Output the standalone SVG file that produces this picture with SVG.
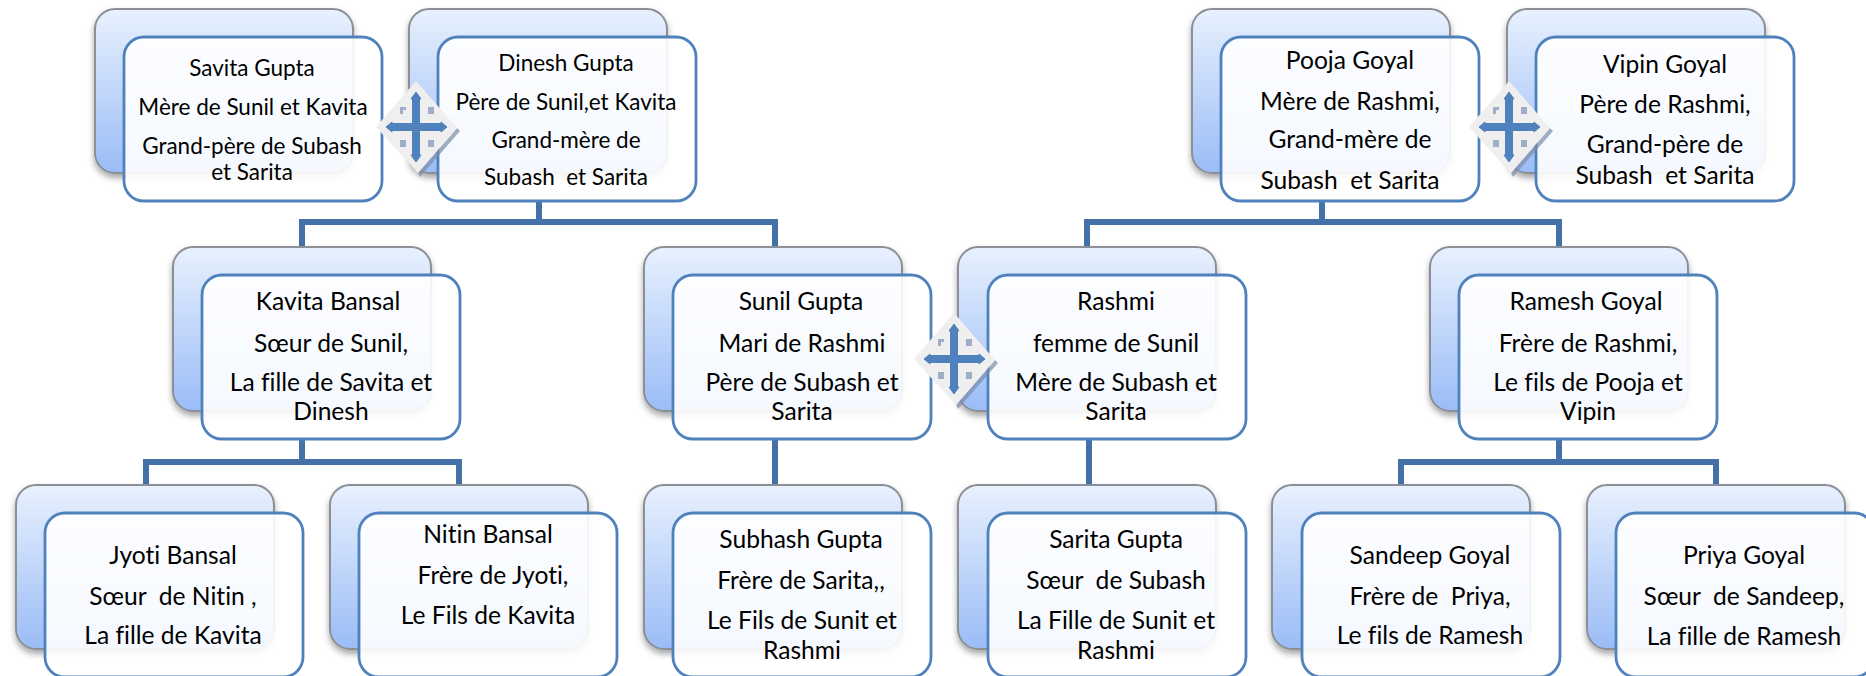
<svg xmlns="http://www.w3.org/2000/svg" width="1866" height="676" viewBox="0 0 1866 676">
<style>
text{font-family:"Lato","Open Sans","Liberation Sans",sans-serif;font-size:24.6px;fill:#000;text-anchor:middle;white-space:pre;font-variant-ligatures:none;transform:translateY(1.5px)}
.t text{font-size:22.5px}
.b{fill:url(#g);stroke:#8c8f96;stroke-width:2;filter:url(#s)}
.f{fill:#fff;fill-opacity:.9;stroke:#4f81bd;stroke-width:2.8}
.c{fill:none;stroke:#4472a8;stroke-width:6}
</style>
<defs>
<linearGradient id="g" x1="0" y1="0" x2="0" y2="1"><stop offset="0" stop-color="#e8f1fe"/><stop offset="1" stop-color="#9abcf6"/></linearGradient>
<filter id="s" x="-10%" y="-10%" width="120%" height="125%"><feDropShadow dx="0" dy="4" stdDeviation="3" flood-color="#000" flood-opacity=".35"/></filter>
<rect id="bb" class="b" width="258" height="164" rx="20"/>
<rect id="ff" class="f" width="258" height="164" rx="20"/>
<g id="d">
<path d="M41 1 L44 4 L4 50 L2 46 Z" fill="#7b8ba5" opacity=".7"/>
<path d="M0 -46 L41 1 L2 46 L-40 0 Z" fill="#efefef"/>
<path d="M0 -35 L5 -28 L3.500 -28 L3.500 -3.500 L25 -3.500 L25 -5 L31 0 L25 5 L25 3.500 L3.500 3.500 L3.500 28 L5 28 L0 35 L-5 28 L-3.500 28 L-3.500 3.500 L-24 3.500 L-24 5 L-30 0 L-24 -5 L-24 -3.500 L-3.500 -3.500 L-3.500 -28 L-5 -28 Z" fill="#4f81bd" stroke="#4f81bd" stroke-width="1"/>
<path d="M-16 -20 h6 v3 h-3 v4 h-3 z M12 -20 h6 v7 h-6 z M-16 13 h6 v7 h-6 z M12 13 h6 v7 h-6 z" fill="#9fadc8"/>
</g>
</defs>
<g id="connectors">
<path class="c" d="M302 247V222H775V247M539 201V222"/>
<path class="c" d="M1087 247V222H1559V247M1322 201V222"/>
<path class="c" d="M146 485V462H459V485M302 439V462"/>
<path class="c" d="M775 439V485"/>
<path class="c" d="M1089 439V485"/>
<path class="c" d="M1401 485V462H1716V485M1559 439V462"/>
</g>
<g id="savita" class="t"><use href="#bb" x="95" y="9"/><use href="#ff" x="124" y="37"/><text x="252" y="74">Savita Gupta</text><text x="253" y="113">Mère de Sunil et Kavita</text><text x="252" y="152">Grand-père de Subash</text><text x="252" y="178">et Sarita</text></g>
<g id="dinesh" class="t"><use href="#bb" x="409" y="9"/><use href="#ff" x="438" y="37"/><text x="566" y="69">Dinesh Gupta</text><text x="566" y="108">Père de Sunil,et Kavita</text><text x="566" y="146">Grand-mère de</text><text x="566" y="183">Subash  et Sarita</text></g>
<g id="pooja"><use href="#bb" x="1192" y="9"/><use href="#ff" x="1221" y="37"/><text x="1350" y="67">Pooja Goyal</text><text x="1350" y="108">Mère de Rashmi,</text><text x="1350" y="146">Grand-mère de</text><text x="1350" y="187">Subash  et Sarita</text></g>
<g id="vipin"><use href="#bb" x="1507" y="9"/><use href="#ff" x="1536" y="37"/><text x="1665" y="71">Vipin Goyal</text><text x="1665" y="111">Père de Rashmi,</text><text x="1665" y="151">Grand-père de</text><text x="1665" y="182">Subash  et Sarita</text></g>
<g id="kavita"><use href="#bb" x="173" y="247"/><use href="#ff" x="202" y="275"/><text x="328" y="308">Kavita Bansal</text><text x="331" y="350">Sœur de Sunil,</text><text x="331" y="389">La fille de Savita et</text><text x="331" y="418">Dinesh</text></g>
<g id="sunil"><use href="#bb" x="644" y="247"/><use href="#ff" x="673" y="275"/><text x="801" y="308">Sunil Gupta</text><text x="802" y="350">Mari de Rashmi</text><text x="802" y="389">Père de Subash et</text><text x="802" y="418">Sarita</text></g>
<g id="rashmi"><use href="#bb" x="958" y="247"/><use href="#ff" x="988" y="275"/><text x="1116" y="308">Rashmi</text><text x="1116" y="350">femme de Sunil</text><text x="1116" y="389">Mère de Subash et</text><text x="1116" y="418">Sarita</text></g>
<g id="ramesh"><use href="#bb" x="1430" y="247"/><use href="#ff" x="1459" y="275"/><text x="1586" y="308">Ramesh Goyal</text><text x="1588" y="350">Frère de Rashmi,</text><text x="1588" y="389">Le fils de Pooja et</text><text x="1588" y="418">Vipin</text></g>
<g id="jyoti"><use href="#bb" x="16" y="485"/><use href="#ff" x="45" y="513"/><text x="173" y="562">Jyoti Bansal</text><text x="173" y="603">Sœur  de Nitin ,</text><text x="173" y="642">La fille de Kavita</text></g>
<g id="nitin"><use href="#bb" x="330" y="485"/><use href="#ff" x="359" y="513"/><text x="488" y="541">Nitin Bansal</text><text x="493" y="582">Frère de Jyoti,</text><text x="488" y="622">Le Fils de Kavita</text></g>
<g id="subhash"><use href="#bb" x="644" y="485"/><use href="#ff" x="673" y="513"/><text x="801" y="546">Subhash Gupta</text><text x="801" y="587">Frère de Sarita,,</text><text x="802" y="627">Le Fils de Sunit et</text><text x="802" y="657">Rashmi</text></g>
<g id="sarita"><use href="#bb" x="958" y="485"/><use href="#ff" x="988" y="513"/><text x="1116" y="546">Sarita Gupta</text><text x="1116" y="587">Sœur  de Subash</text><text x="1116" y="627">La Fille de Sunit et</text><text x="1116" y="657">Rashmi</text></g>
<g id="sandeep"><use href="#bb" x="1272" y="485"/><use href="#ff" x="1302" y="513"/><text x="1430" y="562">Sandeep Goyal</text><text x="1430" y="603">Frère de  Priya,</text><text x="1430" y="642">Le fils de Ramesh</text></g>
<g id="priya"><use href="#bb" x="1587" y="485"/><use href="#ff" x="1616" y="513"/><text x="1744" y="562">Priya Goyal</text><text x="1744" y="603">Sœur  de Sandeep,</text><text x="1744" y="643">La fille de Ramesh</text></g>
<g id="link-savita-dinesh"><use href="#d" x="416" y="127"/></g>
<g id="link-pooja-vipin"><use href="#d" x="1509" y="127"/></g>
<g id="link-sunil-rashmi"><use href="#d" x="954" y="359"/></g>
</svg>
